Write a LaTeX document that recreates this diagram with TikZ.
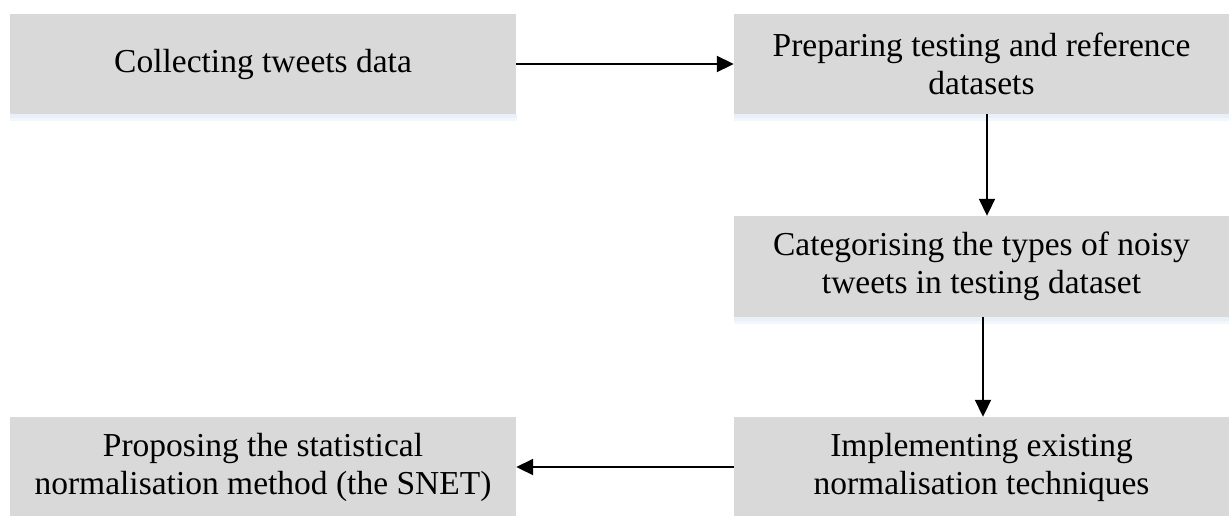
\documentclass[tikz,border=0pt]{standalone}
\usepackage{fontspec}
\setmainfont{Liberation Serif}
\usetikzlibrary{arrows.meta}
\definecolor{boxgray}{HTML}{D9D9D9}
\definecolor{glow}{HTML}{E9F0F9}
\definecolor{glowlight}{HTML}{F3F7FC}
\tikzset{
  stepbox/.style={rectangle, fill=boxgray, draw=none, align=center,
    font=\fontsize{33.5}{38}\selectfont, inner sep=0pt},
  arr/.style={line width=1.9pt, -{Triangle[length=17pt,width=16pt]}},
}
\begin{document}
\begin{tikzpicture}[x=1pt,y=-1pt]
\useasboundingbox (0,0) rectangle (1229,515);
% soft shadows
\fill[glowlight] (10,114) rectangle (517,121);
\fill[glow] (10,114) rectangle (517,118);
\fill[glowlight] (734,114) rectangle (1229,121);
\fill[glow] (734,114) rectangle (1229,118);
\fill[glowlight] (734,317) rectangle (1229,324);
\fill[glow] (734,317) rectangle (1229,321);
\node[stepbox, minimum width=506pt, minimum height=100pt] (b1) at (263,64) {Collecting tweets data};
\node[stepbox, minimum width=495pt, minimum height=100pt] (b2) at (981.5,64) {Preparing testing and reference\\datasets};
\node[stepbox, minimum width=495pt, minimum height=101pt] (b3) at (981.5,266.5) {Categorising the types of noisy\\tweets in testing dataset};
\node[stepbox, minimum width=495pt, minimum height=100pt] (b4) at (981.5,467) {Implementing existing\\normalisation techniques};
\node[stepbox, minimum width=506pt, minimum height=100pt] (b5) at (263,467) {Proposing the statistical\\normalisation method (the SNET)};
\draw[arr] (b1.east) -- (b2.west);
\draw[arr] ([xshift=5.5pt]b2.south) -- ([xshift=5.5pt]b3.north);
\draw[arr] ([xshift=1.5pt]b3.south) -- ([xshift=1.5pt]b4.north);
\draw[arr] (b4.west) -- (b5.east);
\end{tikzpicture}
\end{document}
